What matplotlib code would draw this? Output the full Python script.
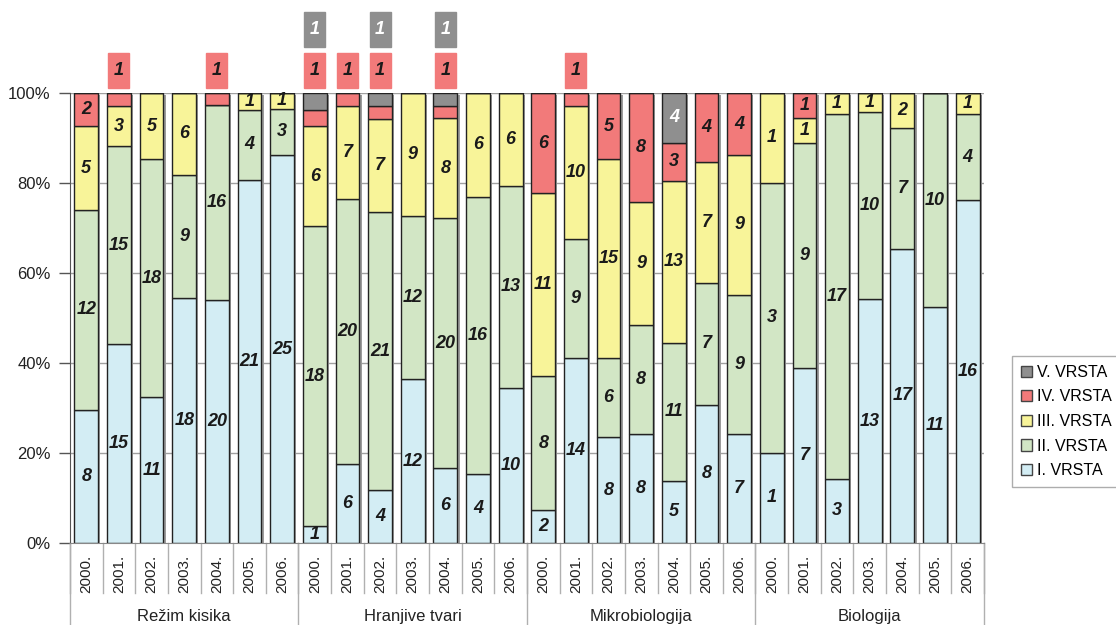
import numpy as np
import matplotlib.pyplot as plt
from matplotlib.patches import Rectangle, Patch

plt.rcParams['font.family'] = ['Liberation Sans', 'DejaVu Sans']

groups = ['Režim kisika', 'Hranjive tvari', 'Mikrobiologija', 'Biologija']
years = ['2000.', '2001.', '2002.', '2003.', '2004.', '2005.', '2006.']
classes = ['I. VRSTA', 'II. VRSTA', 'III. VRSTA', 'IV. VRSTA', 'V. VRSTA']
colors = ['#D3EDF4', '#D2E6C5', '#F8F499', '#F27A7A', '#8F8F8F']

# broj mjernih mjesta po vrsti, 4 skupine x 7 godina
vrsta_1 = [8, 15, 11, 18, 20, 21, 25,  1, 6, 4, 12, 6, 4, 10,  2, 14, 8, 8, 5, 8, 7,  1, 7, 3, 13, 17, 11, 16]
vrsta_2 = [12, 15, 18, 9, 16, 4, 3,  18, 20, 21, 12, 20, 16, 13,  8, 9, 6, 8, 11, 7, 9,  3, 9, 17, 10, 7, 10, 4]
vrsta_3 = [5, 3, 5, 6, 0, 1, 1,  6, 7, 7, 9, 8, 6, 6,  11, 10, 15, 9, 13, 7, 9,  1, 1, 1, 1, 2, 0, 1]
vrsta_4 = [2, 1, 0, 0, 1, 0, 0,  1, 1, 1, 0, 1, 0, 0,  6, 1, 5, 8, 3, 4, 4,  0, 1, 0, 0, 0, 0, 0]
vrsta_5 = [0, 0, 0, 0, 0, 0, 0,  1, 0, 1, 0, 1, 0, 0,  0, 0, 0, 0, 4, 0, 0,  0, 0, 0, 0, 0, 0, 0]

counts = np.array([vrsta_1, vrsta_2, vrsta_3, vrsta_4, vrsta_5], dtype=float)
share = counts / counts.sum(axis=0)
n = counts.shape[1]
x = np.arange(n)
w = 0.73

fig = plt.figure(figsize=(11.16, 6.25), dpi=100)
ax = fig.add_axes([0.0627, 0.1312, 0.819, 0.72])

for y in [0.2, 0.4, 0.6, 0.8, 1.0]:
    ax.axhline(y, color='#a0a0a0', lw=1, zorder=0)

# sjena desno od stupaca
ax.bar(x + 0.07, np.ones(n), w, bottom=-0.004, color='#9c9c9c', zorder=1)

bottom = np.zeros(n)
red_row, gray_row = 1.011, 1.102
for k in range(5):
    ax.bar(x, share[k], w, bottom=bottom, color=colors[k], edgecolor='#222222',
           lw=1.0, zorder=2)
    for i in range(n):
        v = counts[k, i]
        if v == 0:
            continue
        tc = 'white' if k == 4 else '#1a1a1a'
        if k >= 3 and share[k, i] < 0.04:
            y0 = red_row if k == 3 else gray_row
            ax.add_patch(Rectangle((x[i] - 0.32, y0), 0.64, 0.078, color=colors[k],
                                   clip_on=False, zorder=3))
            ax.text(x[i], y0 + 0.039, f'{int(v)}', ha='center', va='center',
                    fontsize=13, fontweight='bold', style='italic', color=tc,
                    clip_on=False, zorder=4)
        else:
            ax.text(x[i], bottom[i] + share[k, i] / 2, f'{int(v)}', ha='center',
                    va='center', fontsize=13, fontweight='bold', style='italic',
                    color=tc, zorder=4)
    bottom += share[k]

ax.set_xlim(-0.5, n - 0.5)
ax.set_ylim(0, 1)
ax.set_yticks(np.arange(0, 1.01, 0.2))
ax.set_yticklabels([f'{int(round(t * 100))}%' for t in np.arange(0, 1.01, 0.2)], fontsize=12)
ax.tick_params(axis='y', length=8, width=1, color='#555555', pad=6, labelcolor='#222222')
ax.set_xticks([])
for s in ['top', 'right']:
    ax.spines[s].set_visible(False)
ax.spines['left'].set_color('#555555')
ax.spines['bottom'].set_color('#888888')

tr = ax.get_xaxis_transform()
for i in range(n):
    ax.text(x[i], -0.069, years[i % 7], rotation=90, ha='center', va='center',
            fontsize=11, color='#222222', transform=tr)
for b in np.arange(-0.5, n, 1.0):
    ax.plot([b, b], [0, -0.111], color='#b0b0b0', lw=1, transform=tr, clip_on=False)
for g in range(len(groups) + 1):
    b = g * 7 - 0.5
    ax.plot([b, b], [0, -0.185], color='#b0b0b0', lw=1, transform=tr, clip_on=False)
for g, name in enumerate(groups):
    ax.text(g * 7 + 3, -0.163, name, ha='center', va='center', fontsize=12,
            color='#222222', transform=tr)

handles = [Patch(facecolor=colors[k], edgecolor='#444444', label=classes[k]) for k in range(4, -1, -1)]
leg = fig.legend(handles=handles, loc='center left', bbox_to_anchor=(0.9, 0.3256),
                 fontsize=11.5, frameon=True, fancybox=False, handlelength=0.7,
                 handleheight=0.7, handletextpad=0.3, labelspacing=0.6, borderpad=0.55)
leg.get_frame().set_edgecolor('#999999')
leg.get_frame().set_linewidth(1)

fig.savefig('out.png', dpi=100)
